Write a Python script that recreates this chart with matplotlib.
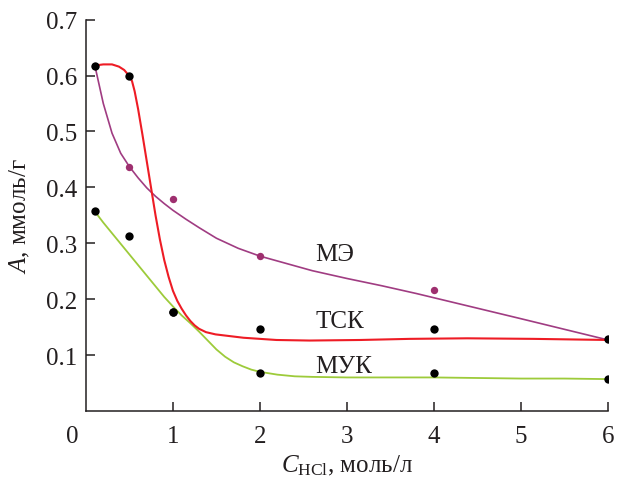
import matplotlib
matplotlib.use("Agg")
import matplotlib.pyplot as plt

# fonts: serif, Times-like
plt.rcParams['font.family'] = ['Liberation Serif', 'DejaVu Serif']
plt.rcParams['mathtext.fontset'] = 'custom'
plt.rcParams['mathtext.rm'] = 'Liberation Serif'
plt.rcParams['mathtext.it'] = 'Liberation Serif:italic'

# measured points
tsk_x = [0.1, 0.5, 1.0, 2.0, 4.0, 6.0]
tsk_y = [0.618, 0.600, 0.177, 0.146, 0.147, 0.128]
muk_x = [0.1, 0.5, 1.0, 2.0, 4.0, 6.0]
muk_y = [0.357, 0.313, 0.177, 0.068, 0.068, 0.058]
me_x = [0.1, 0.5, 1.0, 2.0, 4.0, 6.0]
me_y = [0.618, 0.437, 0.379, 0.277, 0.217, 0.128]

# fitted curves
tsk_fit_x = [0.10, 0.20, 0.30, 0.38, 0.44, 0.50, 0.53, 0.56, 0.60, 0.65, 0.70, 0.75,
             0.80, 0.85, 0.90, 0.95, 1.00, 1.05, 1.10, 1.15, 1.20, 1.25, 1.30, 1.38,
             1.49, 1.65, 1.81, 2.00, 2.19, 2.57, 3.15, 3.72, 4.38, 5.14, 6.00]
tsk_fit_y = [0.618, 0.620, 0.620, 0.616, 0.610, 0.599, 0.590, 0.572, 0.540, 0.494, 0.446, 0.398,
             0.350, 0.307, 0.270, 0.240, 0.215, 0.197, 0.183, 0.171, 0.161, 0.153, 0.147, 0.141,
             0.137, 0.134, 0.131, 0.129, 0.127, 0.126, 0.127, 0.129, 0.130, 0.129, 0.127]
muk_fit_x = [0.107, 0.20, 0.30, 0.40, 0.50, 0.60, 0.70, 0.80, 0.90, 1.00, 1.10, 1.20,
             1.30, 1.40, 1.50, 1.60, 1.70, 1.80, 1.90, 2.00, 2.20, 2.40, 2.60, 3.00,
             3.50, 4.00, 4.50, 5.00, 5.50, 6.00]
muk_fit_y = [0.356, 0.337, 0.318, 0.299, 0.280, 0.261, 0.242, 0.223, 0.204, 0.187, 0.171, 0.157,
             0.142, 0.126, 0.110, 0.097, 0.087, 0.080, 0.074, 0.070, 0.065, 0.062, 0.061, 0.060,
             0.060, 0.060, 0.059, 0.058, 0.058, 0.057]
me_fit_x = [0.107, 0.20, 0.30, 0.40, 0.50, 0.60, 0.70, 0.80, 0.90, 1.00, 1.15, 1.30,
            1.50, 1.75, 2.00, 2.30, 2.60, 3.00, 3.40, 3.80, 4.20, 4.60, 5.00, 5.50, 6.00]
me_fit_y = [0.615, 0.550, 0.497, 0.461, 0.437, 0.417, 0.399, 0.384, 0.371, 0.359, 0.343, 0.328,
            0.309, 0.291, 0.277, 0.264, 0.251, 0.237, 0.224, 0.210, 0.195, 0.180, 0.165, 0.146, 0.127]

red = '#ee1c25'
purple = '#a03c82'
purple_dot = '#9e2f6f'
green = '#9dcb3a'

fig = plt.figure(figsize=(6.18, 4.81), dpi=100)
ax = fig.add_axes([0.139, 0.1435, 0.845, 0.8135])

# curves
ax.plot(me_fit_x, me_fit_y, color=purple, linewidth=1.2, solid_joinstyle='round')
ax.plot(muk_fit_x, muk_fit_y, color=green, linewidth=1.3, solid_joinstyle='round')
ax.plot(tsk_fit_x, tsk_fit_y, color=red, linewidth=1.5, solid_joinstyle='round')

# points
ax.plot(me_x, me_y, 'o', color=purple_dot, markersize=5.3, markeredgewidth=0)
ax.plot(muk_x, muk_y, 'o', color='black', markersize=6, markeredgewidth=0)
ax.plot(tsk_x, tsk_y, 'o', color='black', markersize=6, markeredgewidth=0)

# curve labels
ax.text(2.64, 0.2805, 'МЭ', fontsize=18, va='center', ha='left', color='#231f20')
ax.text(2.64, 0.161, 'ТСК', fontsize=18, va='center', ha='left', color='#231f20')
ax.text(2.64, 0.080, 'МУК', fontsize=18, va='center', ha='left', color='#231f20')

ax.set_xlim(0, 6)
ax.set_ylim(0, 0.7)
ax.set_xticks([1, 2, 3, 4, 5, 6])
ax.set_yticks([0.1, 0.2, 0.3, 0.4, 0.5, 0.6, 0.7])
ax.set_yticklabels(['0.1', '0.2', '0.3', '0.4', '0.5', '0.6', '0.7'])
ax.tick_params(direction='in', length=6.5, width=1.1, labelsize=18,
               colors='#231f20')
ax.tick_params(axis='x', pad=10)
ax.tick_params(axis='y', pad=6)

# shared zero at the corner
ax.text(-0.027, -0.036, '0', transform=ax.transAxes, fontsize=18,
        ha='center', va='top', color='#231f20')

for s in ['top', 'right']:
    ax.spines[s].set_visible(False)
for s in ['left', 'bottom']:
    ax.spines[s].set_linewidth(1.1)
    ax.spines[s].set_color('#231f20')

ax.set_xlabel(r'$\mathit{C}_{\mathrm{HCl}}$, моль/л', fontsize=18, labelpad=4,
              color='#231f20')
ax.set_ylabel(r'$\mathit{A}$, ммоль/г', fontsize=18, labelpad=10, color='#231f20')

fig.savefig('out.png', dpi=100)
